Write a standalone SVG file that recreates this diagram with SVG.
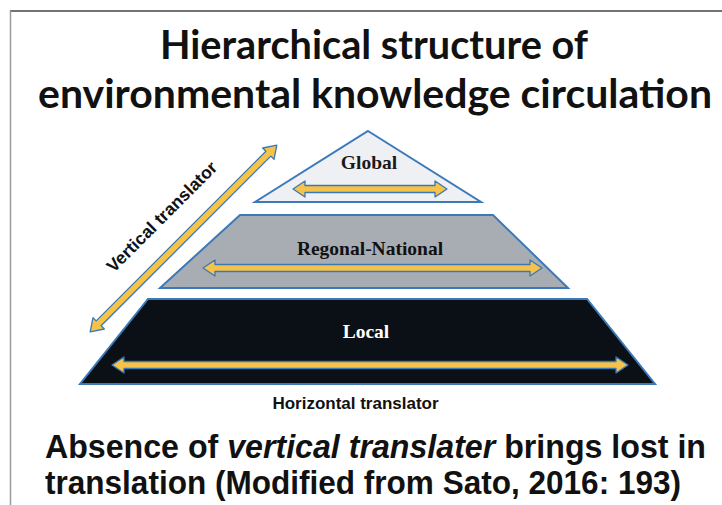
<svg xmlns="http://www.w3.org/2000/svg" width="722" height="505" viewBox="0 0 722 505">
<style>
.title{font-family:Lato,"Open Sans","Liberation Sans",sans-serif;font-weight:bold;font-size:41px;fill:#111}
.lvl{font-family:"Liberation Serif","Times New Roman",serif;font-weight:bold;font-size:19.5px;text-anchor:middle}
.lab{font-family:"Liberation Sans",Arial,sans-serif;font-weight:bold;fill:#111}
.foot{font-family:"Liberation Sans",Arial,sans-serif;font-weight:bold;font-size:33px;fill:#111}
.arr{fill:#f5c24a;stroke:#3b79b6;stroke-width:1.3;stroke-linejoin:round}
.tier{stroke:#3b7ab8;stroke-width:2;stroke-linejoin:miter}
</style>
<rect width="722" height="505" fill="#fff"/>
<line x1="10" y1="11" x2="722" y2="11" stroke="#444" stroke-width="1.5"/>
<line x1="10.5" y1="11" x2="10.5" y2="505" stroke="#9a9a9a" stroke-width="1.5"/>
<text class="title" x="374" y="59" text-anchor="middle" textLength="428" lengthAdjust="spacingAndGlyphs">Hierarchical structure of</text>
<text class="title" x="375" y="108" text-anchor="middle" textLength="674" lengthAdjust="spacingAndGlyphs">environmental knowledge circulation</text>
<g id="global">
<polygon class="tier" points="368,131 481,202 255,202" fill="#eef0f3"/>
<text class="lvl" x="369" y="169" fill="#1a1a1a">Global</text>
</g>
<g id="regional">
<polygon class="tier" points="240,215 493,215 568,288 160,288" fill="#a8adb3"/>
<text class="lvl" x="370" y="255" fill="#111">Regonal-National</text>
</g>
<g id="local">
<polygon class="tier" points="148,299 587,299 655,384 80,384" fill="#0b1016"/>
<text class="lvl" x="366" y="338" fill="#fff">Local</text>
</g>
<g id="connectors">
<polygon class="arr" points="293,189 305,181 305,185.5 435,185.5 435,181 447,189 435,197 435,192.5 305,192.5 305,197"/>
<polygon class="arr" points="203,268 215,260 215,264.5 530,264.5 530,260 542,268 530,276 530,271.5 215,271.5 215,276"/>
<polygon class="arr" points="112,365 124,357 124,361.5 616,361.5 616,357 628,365 616,373 616,368.5 124,368.5 124,373"/>
<polygon class="arr" transform="translate(183.5,238.5) rotate(-45)" points="-132,0 -120,-8 -120,-3.5 120,-3.5 120,-8 132,0 120,8 120,3.5 -120,3.5 -120,8"/>
</g>
<text class="lab" font-size="17.5" text-anchor="middle" transform="translate(166,221) rotate(-45)" x="0" y="0">Vertical translator</text>
<text class="lab" font-size="17" x="355.5" y="409" text-anchor="middle">Horizontal translator</text>
<text class="foot" x="45" y="458" textLength="661" lengthAdjust="spacingAndGlyphs">Absence of <tspan font-style="italic">vertical translater</tspan> brings lost in</text>
<text class="foot" x="45" y="494" textLength="636" lengthAdjust="spacingAndGlyphs">translation (Modified from Sato, 2016: 193)</text>
</svg>
